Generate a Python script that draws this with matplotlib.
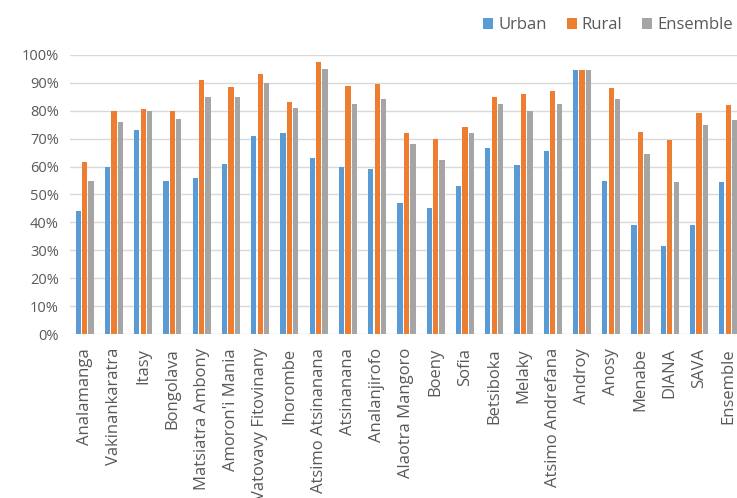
import numpy as np
import matplotlib.pyplot as plt
from matplotlib.ticker import PercentFormatter

plt.rcParams['font.family'] = ['Open Sans', 'DejaVu Sans']

regions = ['Analamanga', 'Vakinankaratra', 'Itasy', 'Bongolava', 'Matsiatra Ambony',
           "Amoron'i Mania", 'Vatovavy Fitovinany', 'Ihorombe', 'Atsimo Atsinanana',
           'Atsinanana', 'Analanjirofo', 'Alaotra Mangoro', 'Boeny', 'Sofia', 'Betsiboka',
           'Melaky', 'Atsimo Andrefana', 'Androy', 'Anosy', 'Menabe', 'DIANA', 'SAVA',
           'Ensemble']
urban = [44, 60, 73, 55, 56, 61, 71, 72, 63, 60, 59, 47, 45, 53, 66.5, 60.5, 65.5,
         94.5, 55, 39, 31.5, 39, 54.5]
rural = [61.5, 80, 80.5, 80, 91, 88.5, 93, 83, 97.5, 89, 89.5, 72, 70, 74, 85, 86, 87,
         94.5, 88, 72.5, 69.5, 79, 82]
ensemble = [55, 76, 80, 77, 85, 85, 90, 81, 95, 82.5, 84, 68, 62.5, 72, 82.5, 80, 82.5,
            94.5, 84, 64.5, 54.5, 75, 76.5]

series = [('Urban', urban, '#5B9BD5'),
          ('Rural', rural, '#ED7D31'),
          ('Ensemble', ensemble, '#A5A5A5')]

fig = plt.figure(figsize=(7.37, 4.98), dpi=100)
ax = fig.add_axes([0.095, 0.329, 0.905, 0.561])

x = np.arange(len(regions))
step = 0.22
for i, (name, vals, color) in enumerate(series):
    ax.bar(x + (i - 1) * step, np.array(vals) / 100, width=0.18, color=color, label=name)

ax.set_ylim(0, 1)
ax.set_xlim(-0.5, len(regions) - 0.7)
ax.set_yticks(np.arange(0, 1.01, 0.1))
ax.yaxis.set_major_formatter(PercentFormatter(1.0, decimals=0))
ax.set_xticks(x)
ax.set_xticklabels(regions, rotation=90)
ax.tick_params(axis='both', length=0, colors='#595959')
ax.tick_params(axis='y', labelsize=10.5, pad=8)
ax.tick_params(axis='x', labelsize=12, pad=10)
ax.grid(axis='y', color='#D9D9D9', linewidth=1)
ax.set_axisbelow(True)
for s in ax.spines.values():
    s.set_visible(False)

fig.legend(loc='upper right', bbox_to_anchor=(1.015, 0.995), ncol=3, frameon=False,
           handlelength=0.6, handleheight=0.6, handletextpad=0.3, columnspacing=1.2,
           fontsize=12, labelcolor='#595959')

fig.savefig('out.png')
